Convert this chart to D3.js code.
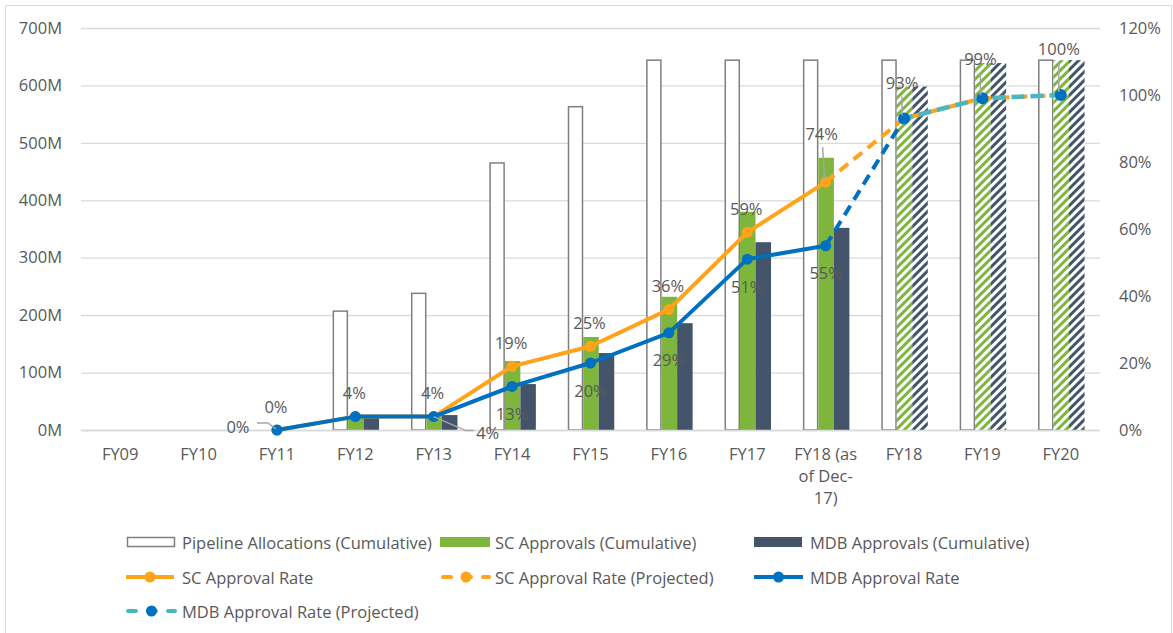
<!DOCTYPE html>
<html><head><meta charset="utf-8">
<script src="https://cdn.jsdelivr.net/npm/d3@7"></script>
<style>
html,body{margin:0;padding:0;background:#fff;}
text{font-family:"Open Sans","Noto Sans",sans-serif;fill:#595959;}
</style></head>
<body>
<svg id="chart" width="1173" height="633"></svg>
<script>
const categories = ["FY09","FY10","FY11","FY12","FY13","FY14","FY15","FY16","FY17","FY18 (as of Dec-17)","FY18","FY19","FY20"];
const pipeline   = [0,0,0,207,238,465,563,644,644,644,644,644,644];
const scApprovals  = [0,0,0,24,26,120,162,232,380,474,598,639,644];
const mdbApprovals = [0,0,0,24,26,80,134,186,327,352,598,639,644];
const projected  = [false,false,false,false,false,false,false,false,false,false,true,true,true];
const scRate      = [null,null,0,4,4,19,25,36,59,74,null,null,null];
const scRateProj  = [null,null,null,null,null,null,null,null,null,74,93,99,100];
const mdbRate     = [null,null,0,4,4,13,20,29,51,55,null,null,null];
const mdbRateProj = [null,null,null,null,null,null,null,null,null,55,93,99,100];
const leftTicks  = [0,100,200,300,400,500,600,700];
const rightTicks = [0,20,40,60,80,100,120];

const C = {pipe:"#7f7f7f", green:"#7db53d", dark:"#44546a", orange:"#ffa31a", blue:"#0070c0", cyan:"#4bb5c1", grid:"#d9d9d9", lead:"#a6a6a6"};
const FS = 16.5;

const svg = d3.select("#chart");
const pLeft = 81, pRight = 1100, pTop = 28, pBottom = 430;

svg.append("rect").attr("x",5.5).attr("y",5.5).attr("width",1166).attr("height",640)
  .attr("fill","none").attr("stroke","#d9d9d9").attr("stroke-width",1);

const x = d3.scaleBand().domain(categories).range([pLeft,pRight]).padding(0);
const yL = d3.scaleLinear().domain([0,700]).range([pBottom,pTop]);
const yR = d3.scaleLinear().domain([0,120]).range([pBottom,pTop]);
const cx = c => x(c) + x.bandwidth()/2;

const defs = svg.append("defs");
function hatch(id, color){
  const p = defs.append("pattern").attr("id",id).attr("patternUnits","userSpaceOnUse")
    .attr("width",6).attr("height",6).attr("patternTransform","rotate(45)");
  p.append("rect").attr("width",6).attr("height",6).attr("fill","#fff");
  p.append("rect").attr("x",0).attr("width",3).attr("height",6).attr("fill",color);
}
hatch("hgreen", C.green);
hatch("hdark", C.dark);

svg.append("g").selectAll("line").data(leftTicks).join("line")
  .attr("x1",pLeft).attr("x2",pRight).attr("y1",d=>yL(d)+0.5).attr("y2",d=>yL(d)+0.5)
  .attr("stroke",C.grid).attr("stroke-width",1.3);

const axL = d3.axisLeft(yL).tickValues(leftTicks).tickFormat(d=>d+"M").tickSize(0).tickPadding(0);
const gL = svg.append("g").attr("transform","translate(62,0)").call(axL);
gL.select(".domain").remove();
gL.selectAll("text").attr("font-size",FS).style("fill","#595959").attr("font-family",null);

const axR = d3.axisRight(yR).tickValues(rightTicks).tickFormat(d=>d+"%").tickSize(0).tickPadding(0);
const gR = svg.append("g").attr("transform","translate(1119,0)").call(axR);
gR.select(".domain").remove();
gR.selectAll("text").attr("font-size",FS).style("fill","#595959").attr("font-family",null);

const bw = 15.5;
const bars = svg.append("g");
categories.forEach((c,i)=>{
  const m = cx(c) + 0.5;
  if (pipeline[i] > 0)
    bars.append("rect").attr("x",m - 1.5*bw + 0.75).attr("y",yL(pipeline[i]))
      .attr("width",bw-1.5).attr("height",yL(0)-yL(pipeline[i]))
      .attr("fill","#fff").attr("stroke",C.pipe).attr("stroke-width",1.5);
  if (scApprovals[i] > 0)
    bars.append("rect").attr("x",m - 0.5*bw).attr("y",yL(scApprovals[i]))
      .attr("width",bw).attr("height",yL(0)-yL(scApprovals[i]))
      .attr("fill",projected[i] ? "url(#hgreen)" : C.green);
  if (mdbApprovals[i] > 0)
    bars.append("rect").attr("x",m + 0.5*bw).attr("y",yL(mdbApprovals[i]))
      .attr("width",bw).attr("height",yL(0)-yL(mdbApprovals[i]))
      .attr("fill",projected[i] ? "url(#hdark)" : C.dark);
});

svg.append("line").attr("x1",pLeft).attr("x2",pRight).attr("y1",pBottom+0.5).attr("y2",pBottom+0.5)
  .attr("stroke",C.grid).attr("stroke-width",1.3);

const xl = svg.append("g");
const wrapMap = {"FY18 (as of Dec-17)":["FY18 (as","of Dec-","17)"]};
categories.forEach(c=>{
  const lines = wrapMap[c] || [c];
  const t = xl.append("text").attr("text-anchor","middle").attr("font-size",FS)
    .attr("x",cx(c)).attr("y",460);
  lines.forEach((l,k)=>t.append("tspan").attr("x",cx(c)).attr("dy",k?22:0).text(l));
});

const pts = arr => categories.map((c,i)=>({c, v:arr[i]})).filter(d=>d.v!==null);
const lineGen = d3.line().x(d=>cx(d.c)).y(d=>yR(d.v));
const lg = svg.append("g");
const LW = 4;

lg.append("path").datum(pts(scRateProj)).attr("d",lineGen).attr("fill","none")
  .attr("stroke",C.orange).attr("stroke-width",LW).attr("stroke-dasharray","11,7");
lg.append("path").datum(pts(scRate)).attr("d",lineGen).attr("fill","none")
  .attr("stroke",C.orange).attr("stroke-width",LW).attr("stroke-linejoin","round");
lg.selectAll(".scm").data(pts(scRate)).join("circle").attr("cx",d=>cx(d.c)).attr("cy",d=>yR(d.v))
  .attr("r",5.5).attr("fill",C.orange);

const mp = pts(mdbRateProj);
lg.append("path").datum(mp.slice(0,2)).attr("d",lineGen).attr("fill","none")
  .attr("stroke",C.blue).attr("stroke-width",LW).attr("stroke-dasharray","11,7");
lg.append("path").datum(mp.slice(1)).attr("d",lineGen).attr("fill","none")
  .attr("stroke",C.cyan).attr("stroke-width",LW+0.5).attr("stroke-dasharray","13,6").attr("stroke-dashoffset",4);
lg.selectAll(".mpm").data(mp.slice(1)).join("circle").attr("cx",d=>cx(d.c)).attr("cy",d=>yR(d.v))
  .attr("r",6).attr("fill",C.blue);

lg.append("path").datum(pts(mdbRate)).attr("d",lineGen).attr("fill","none")
  .attr("stroke",C.blue).attr("stroke-width",LW).attr("stroke-linejoin","round");
lg.selectAll(".mm").data(pts(mdbRate)).join("circle").attr("cx",d=>cx(d.c)).attr("cy",d=>yR(d.v))
  .attr("r",5.5).attr("fill",C.blue);

const lab = svg.append("g");
function label(px,py,txt){
  lab.append("text").attr("x",px).attr("y",py).attr("text-anchor","middle")
    .attr("dominant-baseline","central").attr("font-size",FS).text(txt);
}
function leader(points){
  lab.append("path").attr("d",d3.line()(points)).attr("fill","none")
    .attr("stroke",C.lead).attr("stroke-width",1.5);
}
pts(scRate).forEach(d=>{
  const px = cx(d.c), py = yR(d.v);
  if (d.v === 74){
    leader([[px-3,py-35],[px-1,py-3]]);
    label(px-4, py-49, d.v+"%");
  } else label(px-1, py-24, d.v+"%");
});
pts(mdbRate).forEach((d,i)=>{
  const px = cx(d.c), py = yR(d.v);
  if (i===0){
    leader([[px-20,py-7],[px-9,py-7],[px-1,py-1]]);
    label(px-39, py-4, d.v+"%");
  } else if (i===1){
    // hidden behind SC label of same value
  } else if (i===2){
    leader([[px,py],[px+32,py+14],[px+40,py+14]]);
    label(px+54, py+16, d.v+"%");
  } else label(px, py+27, d.v+"%");
});
const projOff = [36,40,47];
const projLead = [22,26,33];
mp.slice(1).forEach((d,i)=>{
  const px = cx(d.c), py = yR(d.v);
  leader([[px-2,py-projLead[i]],[px-2,py-3]]);
  label(px-2, py-projOff[i], d.v+"%");
});

const leg = svg.append("g");
function legText(x0,y0,t){ leg.append("text").attr("x",x0).attr("y",y0).attr("dominant-baseline","central").attr("font-size",FS).text(t); }
leg.append("rect").attr("x",127.5).attr("y",537.5).attr("width",47).attr("height",9).attr("fill","#fff").attr("stroke",C.pipe).attr("stroke-width",1.5);
legText(182,542,"Pipeline Allocations (Cumulative)");
leg.append("rect").attr("x",440).attr("y",537).attr("width",50).attr("height",10).attr("fill",C.green);
legText(495,542,"SC Approvals (Cumulative)");
leg.append("rect").attr("x",754).attr("y",537).attr("width",48).attr("height",10).attr("fill",C.dark);
legText(810,542,"MDB Approvals (Cumulative)");
function legLine(x0,x1,y0,color,dash,mcolor){
  const l = leg.append("line").attr("x1",x0).attr("x2",x1).attr("y1",y0).attr("y2",y0)
    .attr("stroke",color).attr("stroke-width",LW);
  if (dash) l.attr("stroke-dasharray",dash).attr("stroke-linecap","round");
  leg.append("circle").attr("cx",(x0+x1)/2).attr("cy",y0).attr("r",5.5).attr("fill",mcolor||color);
}
legLine(126,174,577,C.orange,null);
legText(182,577,"SC Approval Rate");
legLine(443,489,577,C.orange,"8,12");
legText(495,577,"SC Approval Rate (Projected)");
legLine(754,803,577,C.blue,null);
legText(810,577,"MDB Approval Rate");
legLine(128,175,611,C.cyan,"8,12",C.blue);
legText(182,611,"MDB Approval Rate (Projected)");
</script>
</body></html>
